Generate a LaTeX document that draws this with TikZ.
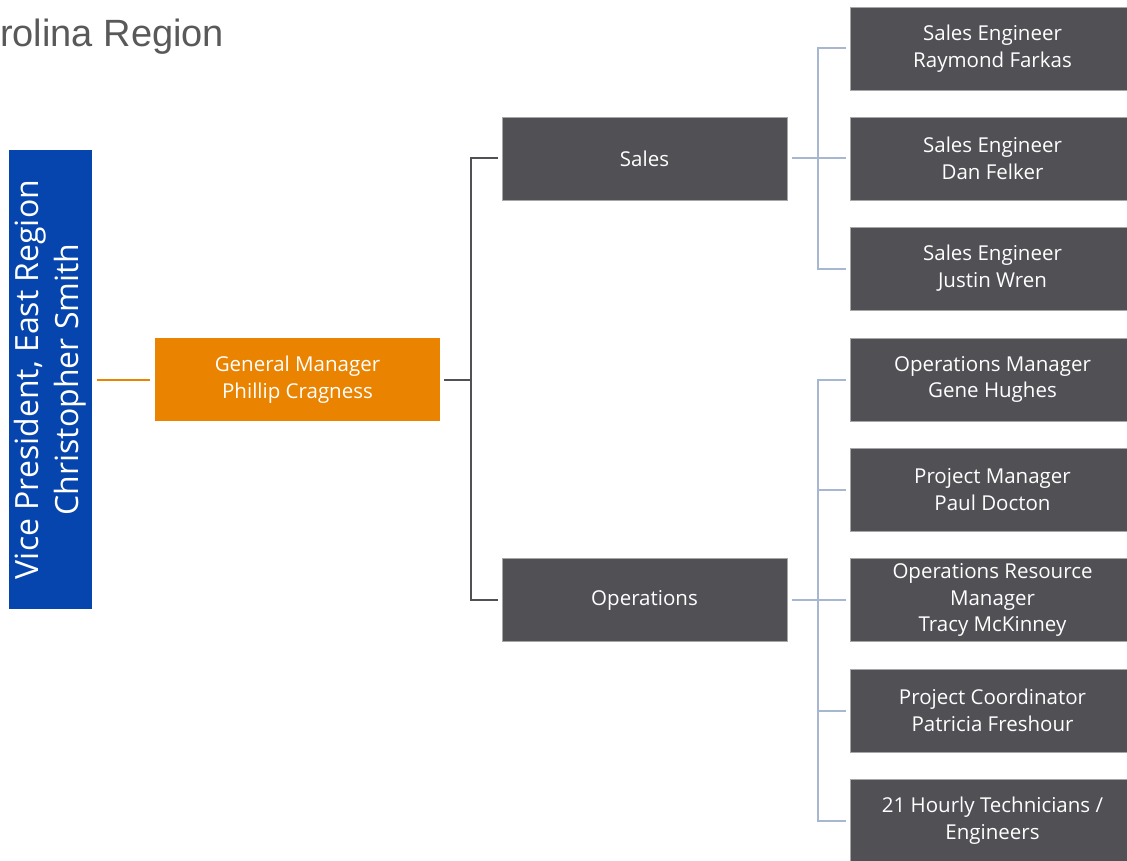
\documentclass[tikz,border=0pt]{standalone}
\usepackage{fontspec}
\setmainfont{Open Sans}
\newfontfamily\titlefont{Liberation Sans}
\definecolor{vpblue}{HTML}{0645AD}
\definecolor{gmorange}{HTML}{E98300}
\definecolor{boxgray}{HTML}{505055}
\definecolor{linegray}{HTML}{505055}
\definecolor{lineblue}{HTML}{A7B7D1}
\definecolor{titlegray}{HTML}{595959}
\begin{document}
\begin{tikzpicture}[x=1pt,y=-1pt,
  orgbox/.style={fill=boxgray, draw=gray!70, line width=0.5pt, text=white, align=center,
    minimum width=285pt, minimum height=83pt, inner sep=0pt,
    font=\fontsize{20.5}{26.8}\selectfont},
  darkline/.style={draw=linegray, line width=2pt},
  blueline/.style={draw=lineblue, line width=2pt},
]
\useasboundingbox (0,0) rectangle (1127,861);
\clip (0,0) rectangle (1127,861);
% title
\node[anchor=base west, inner sep=0pt, text=titlegray, font=\titlefont\fontsize{38}{42}\selectfont] (title) at (0,47) {rolina Region};
% VP
\node[fill=vpblue, minimum width=83pt, minimum height=459pt, inner sep=0pt] (vp) at (50.5,379.5) {};
\node[rotate=90, text=white, align=center, font=\fontsize{32}{40}\selectfont] (vptext) at (vp.center) {Vice President, East Region\\Christopher Smith};
% GM
\node[fill=gmorange, text=white, align=center, minimum width=285pt, minimum height=83pt, inner sep=0pt,
  font=\fontsize{20.5}{26.8}\selectfont] (gm) at (297.5,379.5) {General Manager\\Phillip Cragness};
% departments
\node[orgbox] (sales) at (644.5,158.5) {Sales};
\node[orgbox] (ops) at (644.5,600) {Operations};
% right column
\node[orgbox] (r1) at (992.5,48.5) {Sales Engineer\\Raymond Farkas};
\node[orgbox] (r2) at (992.5,158.5) {Sales Engineer\\Dan Felker};
\node[orgbox] (r3) at (992.5,268.5) {Sales Engineer\\Justin Wren};
\node[orgbox] (r4) at (992.5,379.5) {Operations Manager\\Gene Hughes};
\node[orgbox] (r5) at (992.5,489.5) {Project Manager\\Paul Docton};
\node[orgbox] (r6) at (992.5,600) {Operations Resource\\Manager\\Tracy McKinney};
\node[orgbox] (r7) at (992.5,710.5) {Project Coordinator\\Patricia Freshour};
\node[orgbox] (r8) at (992.5,820.5) {21 Hourly Technicians /\\Engineers};
% connectors
\draw[draw=gmorange, line width=2pt] ([xshift=5pt]vp.east) -- ([xshift=-5pt]gm.west);
\coordinate (trunk) at (471,379.5);
\draw[darkline] ([xshift=4pt]gm.east) -- (trunk);
\draw[darkline] ([xshift=-4pt]sales.west) -| (trunk) |- ([xshift=-4pt]ops.west);
\coordinate (sbus) at (818,158.5);
\coordinate (obus) at (818,600);
\draw[blueline] ([xshift=5pt]sales.east) -- (sbus);
\draw[blueline] ([xshift=-4pt]r1.west) -| (sbus) |- ([xshift=-4pt]r3.west);
\draw[blueline] (sbus) -- ([xshift=-4pt]r2.west);
\draw[blueline] ([xshift=5pt]ops.east) -- (obus);
\draw[blueline] ([xshift=-4pt]r4.west) -| (obus) |- ([xshift=-4pt]r8.west);
\draw[blueline] (818,489.5) -- ([xshift=-4pt]r5.west);
\draw[blueline] (obus) -- ([xshift=-4pt]r6.west);
\draw[blueline] (818,710.5) -- ([xshift=-4pt]r7.west);
\end{tikzpicture}
\end{document}
